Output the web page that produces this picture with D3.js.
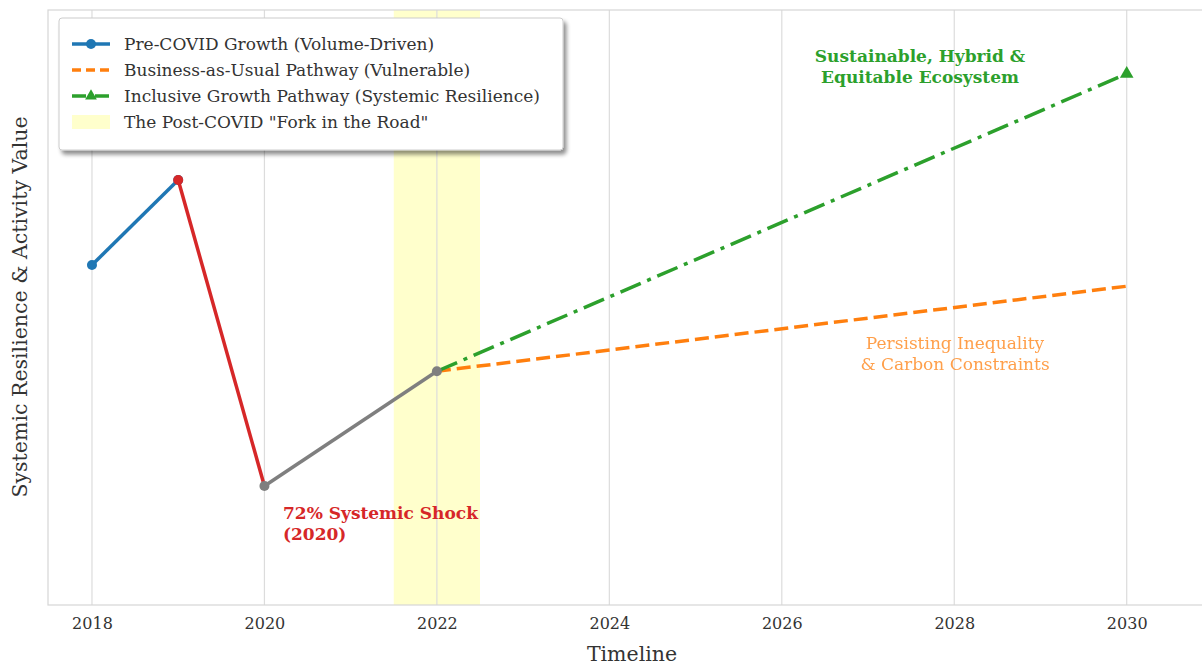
<!DOCTYPE html>
<html>
<head>
<meta charset="utf-8">
<script src="https://cdn.jsdelivr.net/npm/d3@7"></script>
<style>
  body { margin: 0; background: #fff; }
  text { font-family: "DejaVu Serif", serif; }
</style>
</head>
<body>
<script>
let width = 1202;
let height = 666;

// data
let preCovidYears = [2018, 2019];
let preCovidValues = [80, 100];
let shockYears = [2019, 2020];
let shockValues = [100, 28];
let recoveryYears = [2020, 2022];
let recoveryValues = [28, 55];
let bauYears = [2022, 2030];
let bauValues = [55, 75];
let inclusiveYears = [2022, 2030];
let inclusiveValues = [55, 125];
let forkRange = [2021.5, 2022.5];
let tickYears = [2018, 2020, 2022, 2024, 2026, 2028, 2030];

let margin = { left: 48, right: 2, top: 10, bottom: 61 };

let xScale = d3.scaleLinear()
                .domain([2017.49, 2030.85])
                .range([margin.left, width - margin.right]);

let yScale = d3.scaleLinear()
                .domain([0, 140])
                .range([height - margin.bottom, margin.top]);

let svg = d3.select('body').append('svg')
            .attr('width', width)
            .attr('height', height);

let defs = svg.append('defs');
let shadow = defs.append('filter').attr('id', 'shadow')
    .attr('x', '-5%').attr('y', '-5%').attr('width', '115%').attr('height', '125%');
shadow.append('feGaussianBlur').attr('in', 'SourceAlpha').attr('stdDeviation', 2);
shadow.append('feOffset').attr('dx', 3).attr('dy', 4).attr('result', 'b');
shadow.append('feComponentTransfer').append('feFuncA').attr('type', 'linear').attr('slope', 0.45);
let merge = shadow.append('feMerge');
merge.append('feMergeNode');
merge.append('feMergeNode').attr('in', 'SourceGraphic');

// fork band
svg.append('rect')
    .attr('x', xScale(forkRange[0]))
    .attr('width', xScale(forkRange[1]) - xScale(forkRange[0]))
    .attr('y', margin.top)
    .attr('height', height - margin.bottom - margin.top)
    .attr('fill', '#ffff99')
    .attr('opacity', 0.5);

// grid
svg.append('g').selectAll('line')
    .data(tickYears)
    .enter()
    .append('line')
    .attr('x1', d => xScale(d)).attr('x2', d => xScale(d))
    .attr('y1', margin.top).attr('y2', height - margin.bottom)
    .attr('stroke', '#dcdcdc')
    .attr('stroke-width', 1.2);

// frame
svg.append('rect')
    .attr('x', margin.left).attr('y', margin.top)
    .attr('width', width - margin.left - margin.right + 10)
    .attr('height', height - margin.top - margin.bottom)
    .attr('fill', 'none')
    .attr('stroke', '#d6d6d6')
    .attr('stroke-width', 1.2);

// x axis
let xAxis = d3.axisBottom(xScale).tickValues(tickYears).tickFormat(d3.format('d')).tickSize(0).tickPadding(13);
let gx = svg.append('g')
    .attr('transform', 'translate(0,' + (height - margin.bottom) + ')')
    .call(xAxis);
gx.select('.domain').remove();
gx.selectAll('text').attr('font-size', 16).attr('fill', '#333').attr('font-family', '"DejaVu Serif", serif');

svg.append('text')
    .attr('x', 632).attr('y', 661)
    .attr('text-anchor', 'middle')
    .attr('font-size', 20.5).attr('fill', '#333')
    .text('Timeline');

svg.append('text')
    .attr('transform', 'translate(27,307) rotate(-90)')
    .attr('text-anchor', 'middle')
    .attr('font-size', 20.5).attr('fill', '#333')
    .text('Systemic Resilience & Activity Value');

function pts(xs, ys) { return xs.map((x, i) => [x, ys[i]]); }

let line = d3.line().x(d => xScale(d[0])).y(d => yScale(d[1]));

function drawLine(xs, ys, color, dash) {
    svg.append('path')
        .datum(pts(xs, ys))
        .attr('d', line)
        .attr('fill', 'none')
        .attr('stroke', color)
        .attr('stroke-width', 3.5)
        .attr('stroke-dasharray', dash || null);
}

function drawDots(xs, ys, color) {
    svg.append('g').selectAll('circle')
        .data(pts(xs, ys))
        .enter()
        .append('circle')
        .attr('cx', d => xScale(d[0]))
        .attr('cy', d => yScale(d[1]))
        .attr('r', 5)
        .attr('fill', color);
}

drawLine(bauYears, bauValues, '#ff7f0e', '14,6');
drawLine(inclusiveYears, inclusiveValues, '#2ca02c', '22,7,4,7');
drawLine(preCovidYears, preCovidValues, '#1f77b4');
drawDots(preCovidYears, preCovidValues, '#1f77b4');
drawLine(shockYears, shockValues, '#d62728');
drawDots(shockYears.slice(0, 1), shockValues.slice(0, 1), '#d62728');
drawLine(recoveryYears, recoveryValues, '#7f7f7f');
drawDots(recoveryYears, recoveryValues, '#7f7f7f');

// triangle at end of inclusive path
svg.append('path')
    .attr('d', d3.symbol().type(d3.symbolTriangle).size(80))
    .attr('transform', 'translate(' + xScale(inclusiveYears[1]) + ',' + yScale(inclusiveValues[1]) + ')')
    .attr('fill', '#2ca02c');

// annotations
function note(lines, x, y, color, bold, anchor, opacity) {
    let t = svg.append('text')
        .attr('x', x).attr('y', y)
        .attr('text-anchor', anchor)
        .attr('font-size', 17)
        .attr('font-weight', bold ? 'bold' : 'normal')
        .attr('fill', color)
        .attr('opacity', opacity || 1);
    lines.forEach((l, i) => {
        t.append('tspan').attr('x', x).attr('dy', i === 0 ? 0 : 21).text(l);
    });
}

note(['Sustainable, Hybrid &', 'Equitable Ecosystem'], 920, 62, '#2ca02c', true, 'middle');
note(['Persisting Inequality', '& Carbon Constraints'], 955, 349, '#ff7f0e', false, 'middle', 0.75);
note(['72% Systemic Shock', '(2020)'], 283, 519, '#d62728', true, 'start');

// legend
let legend = svg.append('g').attr('transform', 'translate(59,18)');
legend.append('rect')
    .attr('width', 504).attr('height', 132)
    .attr('rx', 3)
    .attr('fill', '#fff')
    .attr('stroke', '#ccc')
    .attr('filter', 'url(#shadow)');

let legendItems = [
    { label: 'Pre-COVID Growth (Volume-Driven)', color: '#1f77b4', dash: null, marker: 'circle' },
    { label: 'Business-as-Usual Pathway (Vulnerable)', color: '#ff7f0e', dash: '9,5', marker: null },
    { label: 'Inclusive Growth Pathway (Systemic Resilience)', color: '#2ca02c', dash: '14,3,3,3', marker: 'triangle' },
    { label: 'The Post-COVID "Fork in the Road"', color: '#ffff99', dash: null, marker: 'patch' }
];

let items = legend.selectAll('g.item')
    .data(legendItems)
    .enter()
    .append('g')
    .attr('transform', (d, i) => 'translate(0,' + (26 + i * 26) + ')');

items.each(function(d) {
    let g = d3.select(this);
    if (d.marker === 'patch') {
        g.append('rect').attr('x', 13).attr('y', -7).attr('width', 38).attr('height', 14)
            .attr('fill', d.color).attr('opacity', 0.5);
    } else {
        g.append('line').attr('x1', 13).attr('x2', 51).attr('y1', 0).attr('y2', 0)
            .attr('stroke', d.color).attr('stroke-width', 3.5)
            .attr('stroke-dasharray', d.dash);
        if (d.marker === 'circle') {
            g.append('circle').attr('cx', 32).attr('cy', 0).attr('r', 5).attr('fill', d.color);
        } else if (d.marker === 'triangle') {
            g.append('path').attr('d', d3.symbol().type(d3.symbolTriangle).size(60))
                .attr('transform', 'translate(32,0)').attr('fill', d.color);
        }
    }
    g.append('text').attr('x', 65).attr('y', 6)
        .attr('font-size', 17).attr('fill', '#333')
        .text(d.label);
});
</script>
</body>
</html>
